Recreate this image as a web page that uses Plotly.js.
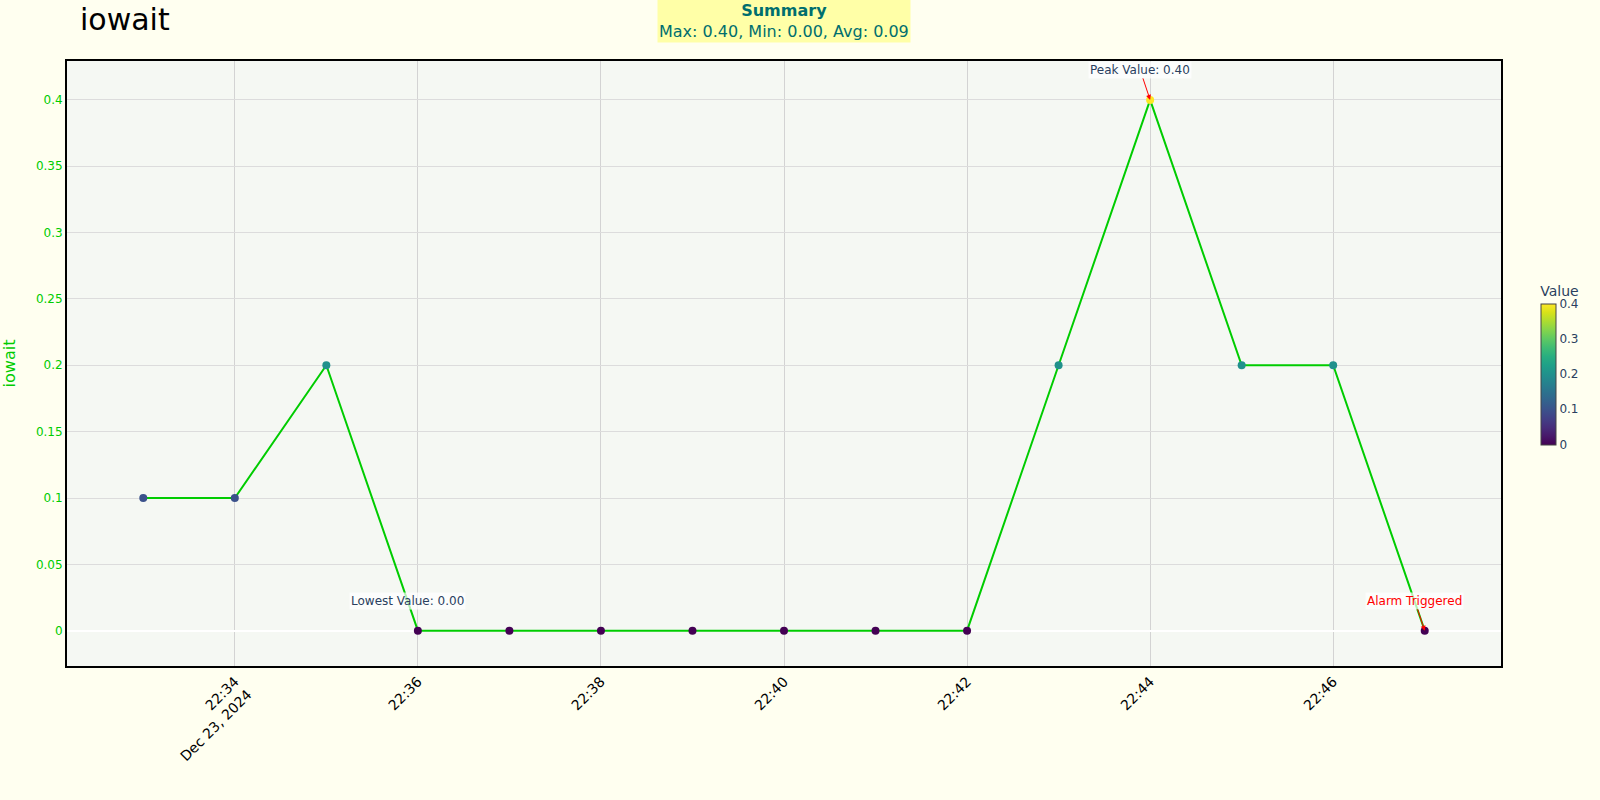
<!DOCTYPE html>
<html>
<head>
<meta charset="utf-8">
<script src="https://cdn.plot.ly/plotly-3.0.1.min.js"></script>
<style>html,body{margin:0;padding:0;background:#fffff0;}#chart{width:1600px;height:800px;}</style>
</head>
<body>
<div id="chart"></div>
<script>
const times = [
  '2024-12-23 22:33:00','2024-12-23 22:34:00','2024-12-23 22:35:00','2024-12-23 22:36:00',
  '2024-12-23 22:37:00','2024-12-23 22:38:00','2024-12-23 22:39:00','2024-12-23 22:40:00',
  '2024-12-23 22:41:00','2024-12-23 22:42:00','2024-12-23 22:43:00','2024-12-23 22:44:00',
  '2024-12-23 22:45:00','2024-12-23 22:46:00','2024-12-23 22:47:00'
];
const iowait = [0.1, 0.1, 0.2, 0, 0, 0, 0, 0, 0, 0, 0.2, 0.4, 0.2, 0.2, 0];

const maxV = Math.max(...iowait);
const minV = Math.min(...iowait);
const avgV = iowait.reduce((a, b) => a + b, 0) / iowait.length;
const maxIdx = iowait.indexOf(maxV);
const minIdx = iowait.indexOf(minV);
const lastIdx = iowait.length - 1;

const font = 'DejaVu Sans, sans-serif';

const trace = {
  x: times,
  y: iowait,
  type: 'scatter',
  mode: 'lines+markers',
  line: {color: '#00cc00', width: 2},
  marker: {
    size: 8,
    color: iowait,
    colorscale: 'Viridis',
    showscale: true,
    colorbar: {title: {text: 'Value', side: 'top', font: {size: 14}}, len: 0.3, y: 0.5, thickness: 15, tickfont: {size: 12}}
  },
  showlegend: false
};

const layout = {
  width: 1600,
  height: 800,
  font: {family: font, color: '#2a3f5f', size: 12},
  paper_bgcolor: '#fffff0',
  plot_bgcolor: '#f5f8f3',
  margin: {l: 67, r: 98, t: 61, b: 134},
  title: {text: 'iowait', x: 0.05, xanchor: 'left', y: 0.976, yanchor: 'middle', font: {size: 30, color: '#000', family: font}},
  xaxis: {
    type: 'date',
    range: ['2024-12-23 22:32:10', '2024-12-23 22:47:50'],
    dtick: 120000,
    tickangle: -45,
    tickfont: {color: '#000', size: 14},
    showgrid: true,
    gridcolor: '#d3d3d3',
    showline: true,
    linecolor: '#000',
    linewidth: 2,
    mirror: true,
    zeroline: false
  },
  yaxis: {
    title: {text: 'iowait', font: {color: '#00cc00', size: 16}, standoff: 18},
    range: [-0.0266, 0.4293],
    dtick: 0.05,
    tickfont: {color: '#00cc00', size: 12},
    showgrid: true,
    gridcolor: '#dcdcdc',
    zeroline: true,
    zerolinecolor: '#ffffff',
    zerolinewidth: 2,
    showline: true,
    linecolor: '#000',
    linewidth: 2,
    mirror: true
  },
  annotations: [
    {
      xref: 'paper', yref: 'paper', x: 0.5, y: 1.03, xanchor: 'center', yanchor: 'bottom',
      showarrow: false,
      text: '<b>Summary</b><br>Max: ' + maxV.toFixed(2) + ', Min: ' + minV.toFixed(2) + ', Avg: ' + avgV.toFixed(2),
      font: {size: 16, color: '#006e6e'},
      bgcolor: 'rgba(255,255,0,0.3)'
    },
    {
      x: times[maxIdx], y: maxV, text: 'Peak Value: ' + maxV.toFixed(2),
      showarrow: true, arrowhead: 2, arrowsize: 1, arrowwidth: 1, arrowcolor: 'red', ax: -10, ay: -30,
      bgcolor: 'rgba(255,255,255,0.7)', font: {size: 12}
    },
    {
      x: times[minIdx], y: minV, text: 'Lowest Value: ' + minV.toFixed(2),
      showarrow: true, arrowhead: 0, arrowwidth: 1, arrowcolor: 'rgba(0,0,0,0)', ax: -10, ay: -30,
      bgcolor: 'rgba(255,255,255,0.7)', font: {size: 12}
    },
    {
      x: times[lastIdx], y: iowait[lastIdx], text: 'Alarm Triggered',
      showarrow: true, arrowhead: 2, arrowsize: 1, arrowwidth: 1, arrowcolor: 'red', ax: -10, ay: -30,
      bgcolor: 'rgba(255,255,255,0.7)', font: {size: 12, color: 'red'}
    }
  ]
};

Plotly.newPlot('chart', [trace], layout, {displayModeBar: false});
</script>
</body>
</html>
